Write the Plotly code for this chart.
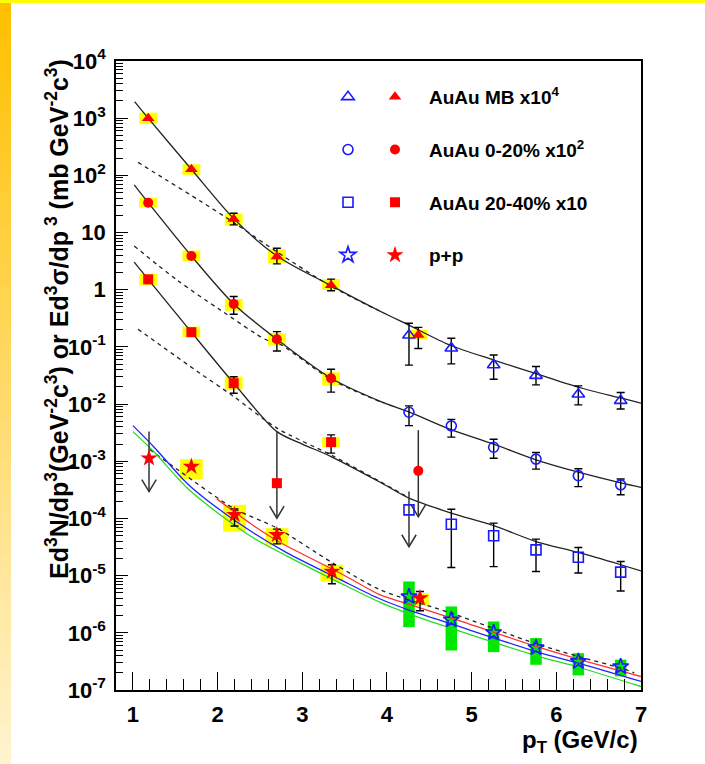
import plotly.graph_objects as go

# ---------------- data ----------------
# AuAu MB x10^4 : filled red triangles
mb_x = [1.18, 1.69, 2.19, 2.70, 3.34, 4.37]
mb_y = [1000, 128, 17.3, 3.8, 1.2, 0.162]
mb_err_hi = [None, None, 21.7, 5.3, 1.53, 0.22]
mb_err_lo = [None, None, 13.6, 2.83, 0.96, 0.094]
mb_sys_hi = [1250, 156, 21.5, 5.1, 1.53, 0.20]
mb_sys_lo = [790, 102, 13.2, 2.9, 0.99, 0.133]

# high-pT points (open blue markers), shared pT bins
hi_x = [4.26, 4.76, 5.26, 5.76, 6.26, 6.76]
mbo_y = [0.16, 0.095, 0.0484, 0.0315, 0.0149, 0.0115]
mbo_err_hi = [0.26, 0.142, 0.0724, 0.0453, 0.0208, 0.0159]
mbo_err_lo = [0.048, 0.0505, 0.0272, 0.0217, 0.0097, 0.0082]

# AuAu 0-20% x10^2 : filled red circles (last one is an upper limit)
c_x = [1.18, 1.69, 2.19, 2.70, 3.34, 4.37]
c_y = [33.3, 3.9, 0.565, 0.136, 0.0283, 6.8e-4]
c_err_hi = [None, None, 0.76, 0.185, 0.0407, None]
c_err_lo = [None, None, 0.373, 0.085, 0.0162, None]
c_sys_hi = [40.7, 4.83, 0.69, 0.174, 0.036, None]
c_sys_lo = [27.3, 3.18, 0.43, 0.105, 0.021, None]
co_y = [7.2e-3, 4.16e-3, 1.76e-3, 1.09e-3, 5.6e-4, 3.87e-4]
co_err_hi = [9.3e-3, 5.4e-3, 2.43e-3, 1.42e-3, 7.4e-4, 4.9e-4]
co_err_lo = [4.2e-3, 2.64e-3, 1.13e-3, 7.3e-4, 3.6e-4, 2.6e-4]

# AuAu 20-40% x10 : filled red squares (2.7 GeV point is an upper limit)
s_x = [1.18, 1.69, 2.19, 2.70, 3.34]
s_y = [1.52, 0.181, 0.0232, 4.14e-4, 2.16e-3]
s_err_hi = [None, None, 0.030, None, 2.9e-3]
s_err_lo = [None, None, 0.0155, None, 1.39e-3]
s_sys_hi = [1.89, 0.226, 0.0303, None, 2.64e-3]
s_sys_lo = [1.2, 0.148, 0.0177, None, 1.77e-3]
so_y = [1.41e-4, 7.9e-5, 4.97e-5, 2.82e-5, 2.1e-5, 1.15e-5]
so_err_hi = [None, 1.45e-4, 8.3e-5, 4.35e-5, 3.1e-5, 1.77e-5]
so_err_lo = [None, 1.39e-5, 1.44e-5, 1.18e-5, 1.11e-5, 5.4e-6]

# p+p : filled red stars (first point is an upper limit)
pp_x = [1.19, 1.69, 2.20, 2.70, 3.35, 4.39]
pp_y = [1.13e-3, 8.07e-4, 1.16e-4, 5.16e-5, 1.18e-5, 4.05e-6]
pp_err_hi = [None, None, 1.47e-4, 6.5e-5, 1.55e-5, 5.27e-6]
pp_err_lo = [None, None, 7.4e-5, 3.6e-5, 7.2e-6, 2.43e-6]
pp_sys_hi = [None, 1.09e-3, 1.73e-4, 6.76e-5, 1.55e-5, 4.94e-6]
pp_sys_lo = [None, 4.86e-4, 5.9e-5, 3.45e-5, 7.9e-6, 2.97e-6]
ppo_y = [4.3e-6, 1.69e-6, 1.01e-6, 5.5e-7, 3.15e-7, 2.57e-7]
ppo_sys_hi = [7.9e-6, 2.89e-6, 1.58e-6, 8.1e-7, 4.4e-7, 3.4e-7]
ppo_sys_lo = [1.26e-6, 4.9e-7, 4.6e-7, 2.76e-7, 1.8e-7, 1.73e-7]

# upper-limit arrows
arrow_x = [1.19, 2.70, 4.37, 4.26]
arrow_top = [3.3e-3, 3.3e-3, 3.5e-3, 2.95e-4]
arrow_bottom = [2.95e-4, 1.01e-4, 1.07e-4, 3.2e-5]

# fit curves (solid)
fit_mb_x = [1.02, 1.18, 1.69, 2.19, 2.70, 3.34, 3.92, 4.26, 4.74, 5.26, 5.76, 6.26, 6.76, 7.0]
fit_mb_y = [1950, 1000, 128, 17.5, 3.9, 1.18, 0.42, 0.24, 0.108, 0.059, 0.034, 0.0197, 0.0128, 0.0104]
fit_c_x = [1.015, 1.18, 1.69, 2.19, 2.70, 3.34, 3.92, 4.26, 4.74, 5.26, 5.76, 6.26, 6.76, 7.0]
fit_c_y = [68, 33.3, 3.9, 0.565, 0.136, 0.0283, 0.0112, 7.3e-3, 3.64e-3, 1.99e-3, 1.06e-3, 6.44e-4, 4.2e-4, 3.5e-4]
fit_s_x = [1.015, 1.18, 1.69, 2.19, 2.70, 3.0, 3.34, 3.92, 4.26, 4.76, 5.26, 5.76, 6.26, 6.76, 7.0]
fit_s_y = [3.03, 1.52, 0.181, 0.0232, 3.3e-3, 2.0e-3, 1.21e-3, 4.3e-4, 2.26e-4, 1.24e-4, 7.5e-5, 3.95e-5, 2.54e-5, 1.55e-5, 1.21e-5]

# scaled p+p references (dashed)
ref_mb_x = [1.06, 1.40, 1.79, 2.19, 2.70, 3.34, 3.92]
ref_mb_y = [169, 82, 36, 15, 4.6, 1.15, 0.42]
ref_c_x = [1.015, 1.52, 2.03, 2.58, 2.70, 3.34, 3.92]
ref_c_y = [5.8, 1.48, 0.444, 0.132, 0.12, 0.027, 0.011]
ref_s_x = [1.06, 1.79, 2.19, 2.70, 3.34, 3.92, 4.26]
ref_s_y = [0.204, 0.0347, 0.0136, 3.8e-3, 1.29e-3, 4.4e-4, 2.3e-4]
ref_pp_x = [1.20, 1.56, 2.19, 2.70, 3.35, 3.92, 4.76, 5.76, 6.26, 6.76, 6.92]
ref_pp_y = [1.6e-3, 6.6e-4, 1.5e-4, 6.8e-5, 1.7e-5, 5.65e-6, 2.21e-6, 6.45e-7, 3.86e-7, 2.42e-7, 2.0e-7]

# p+p theory curves
th_red_x = [1.99, 2.43, 2.74, 3.45, 3.92, 4.16, 4.87, 5.76, 6.26, 7.0]
th_red_y = [2.2e-4, 7.4e-5, 3.8e-5, 1.1e-5, 4.6e-6, 3.5e-6, 1.6e-6, 5.8e-7, 3.47e-7, 1.72e-7]
th_blue_x = [1.0, 1.245, 1.64, 2.03, 2.43, 2.82, 3.45, 3.92, 4.26, 4.76, 5.76, 6.26, 7.0]
th_blue_y = [4.2e-3, 1.8e-3, 4.1e-4, 1.4e-4, 5.5e-5, 2.5e-5, 8.5e-6, 3.9e-6, 2.5e-6, 1.43e-6, 4.7e-7, 2.95e-7, 1.41e-7]
th_green_x = [1.0, 1.245, 1.64, 2.03, 2.43, 2.82, 3.45, 3.92, 4.26, 4.76, 5.76, 6.26, 7.0]
th_green_y = [3.3e-3, 1.48e-3, 3.4e-4, 1.16e-4, 4.5e-5, 2.2e-5, 7.4e-6, 3.4e-6, 2.15e-6, 1.2e-6, 4.0e-7, 2.5e-7, 1.15e-7]

# axis ticks
x_tickvals = [1, 2, 3, 4, 5, 6, 7]
x_ticktext = ["1", "2", "3", "4", "5", "6", "7"]
y_tickvals = [1e-7, 1e-6, 1e-5, 1e-4, 1e-3, 1e-2, 1e-1, 1, 10, 1e2, 1e3, 1e4]
y_ticktext = ["10<sup>-7</sup>", "10<sup>-6</sup>", "10<sup>-5</sup>", "10<sup>-4</sup>",
              "10<sup>-3</sup>", "10<sup>-2</sup>", "10<sup>-1</sup>", "1", "10",
              "10<sup>2</sup>", "10<sup>3</sup>", "10<sup>4</sup>"]

legend_names = ["AuAu MB x10<sup>4</sup>", "AuAu 0-20% x10<sup>2</sup>", "AuAu 20-40% x10", "p+p"]

# ---------------- styling ----------------
FONT = "Liberation Sans, Arial, Helvetica, sans-serif"
RED = "#ff0000"
BLUE = "#1a1aff"
YELLOW = "#ffff00"
GREEN = "#00e800"
HALF_AU = 0.105
HALF_PP = 0.135
HALF_GREEN = 0.068

fig = go.Figure()
shapes = []


def sys_boxes(xs, lo, hi, half_fn, color):
    for x, l, h in zip(xs, lo, hi):
        if l is None or h is None:
            continue
        hw = half_fn(x)
        shapes.append(dict(type="rect", xref="x", yref="y", x0=x - hw, x1=x + hw,
                           y0=l, y1=h, fillcolor=color, line=dict(width=0), layer="below"))


sys_boxes(mb_x, mb_sys_lo, mb_sys_hi, lambda x: HALF_AU, YELLOW)
sys_boxes(c_x, c_sys_lo, c_sys_hi, lambda x: HALF_AU, YELLOW)
sys_boxes(s_x, s_sys_lo, s_sys_hi, lambda x: HALF_AU, YELLOW)
sys_boxes(pp_x, pp_sys_lo, pp_sys_hi, lambda x: HALF_PP if x < 4 else HALF_AU, YELLOW)
sys_boxes(hi_x, ppo_sys_lo, ppo_sys_hi, lambda x: HALF_GREEN, GREEN)


def curve(xs, ys, color, dash="solid", width=1.3):
    fig.add_trace(go.Scatter(x=xs, y=ys, mode="lines", showlegend=False, hoverinfo="skip",
                             line=dict(color=color, width=width, dash=dash, shape="spline",
                                       smoothing=0.8)))


for xs, ys in [(fit_mb_x, fit_mb_y), (fit_c_x, fit_c_y), (fit_s_x, fit_s_y)]:
    curve(xs, ys, "#222222")
for xs, ys in [(ref_mb_x, ref_mb_y), (ref_c_x, ref_c_y), (ref_s_x, ref_s_y), (ref_pp_x, ref_pp_y)]:
    curve(xs, ys, "#222222", dash="4px,4px")
curve(th_green_x, th_green_y, "#22dd22")
curve(th_blue_x, th_blue_y, "#2222ff")
curve(th_red_x, th_red_y, "#ff3030")

# upper limit arrows
ARROW_HW = 0.085
ARROW_HEAD = 10 ** 0.21
ax_, ay_ = [], []
for x, t, b in zip(arrow_x, arrow_top, arrow_bottom):
    ax_ += [x, x, None, x - ARROW_HW, x, x + ARROW_HW, None]
    ay_ += [t, b, None, b * ARROW_HEAD, b, b * ARROW_HEAD, None]
fig.add_trace(go.Scatter(x=ax_, y=ay_, mode="lines", showlegend=False, hoverinfo="skip",
                         line=dict(color="#333333", width=1.5)))


def errbars(xs, ys, his, los):
    ex, ey, eh, el = [], [], [], []
    for x, y, h, l in zip(xs, ys, his, los):
        if h is None:
            continue
        ex.append(x); ey.append(y); eh.append(h - y); el.append(y - l)
    fig.add_trace(go.Scatter(x=ex, y=ey, mode="markers", showlegend=False, hoverinfo="skip",
                             marker=dict(size=1, opacity=0),
                             error_y=dict(type="data", symmetric=False, array=eh, arrayminus=el,
                                          color="#000000", thickness=1.4, width=4)))


errbars(mb_x, mb_y, mb_err_hi, mb_err_lo)
errbars(hi_x, mbo_y, mbo_err_hi, mbo_err_lo)
errbars(c_x, c_y, c_err_hi, c_err_lo)
errbars(hi_x, co_y, co_err_hi, co_err_lo)
errbars(s_x, s_y, s_err_hi, s_err_lo)
errbars(hi_x, so_y, so_err_hi, so_err_lo)
errbars(pp_x, pp_y, pp_err_hi, pp_err_lo)

# open (blue) markers -> legend2 (no text)
open_series = [(mbo_y, "triangle-up-open", 11), (co_y, "circle-open", 10),
               (so_y, "square-open", 10), (ppo_y, "star-open", 12)]
for i, (ys, sym, sz) in enumerate(open_series):
    fig.add_trace(go.Scatter(x=hi_x, y=ys, mode="markers", name="\u00a0", legend="legend2",
                             legendgroup="b%d" % i,
                             marker=dict(symbol=sym, size=sz, color=BLUE, line=dict(color=BLUE, width=1.6))))

# filled (red) markers -> legend
filled_series = [(mb_x, mb_y, "triangle-up", 11), (c_x, c_y, "circle", 10),
                 (s_x, s_y, "square", 10), (pp_x, pp_y, "star", 13)]
for i, (xs, ys, sym, sz) in enumerate(filled_series):
    fig.add_trace(go.Scatter(x=xs, y=ys, mode="markers", name=legend_names[i], legend="legend",
                             legendgroup="r%d" % i,
                             marker=dict(symbol=sym, size=sz, color=RED, line=dict(width=0))))

# ---------------- frame decoration (yellow/orange page border) ----------------
W, H = 705, 764
L, R, T, B = 116, 64, 61, 74
PW, PH = W - L - R, H - T - B


def px2paper_x(px):
    return (px - L) / PW


def px2paper_y(py):
    return (H - B - py) / PH


NB = 40
top_c = (255, 192, 0)
bot_c = (255, 243, 205)
for k in range(NB):
    f = k / (NB - 1)
    col = "rgb(%d,%d,%d)" % tuple(round(a + (b - a) * f) for a, b in zip(top_c, bot_c))
    shapes.append(dict(type="rect", xref="paper", yref="paper", layer="below",
                       x0=px2paper_x(0), x1=px2paper_x(11),
                       y0=px2paper_y(H * k / NB), y1=px2paper_y(H * (k + 1) / NB + 1),
                       fillcolor=col, line=dict(width=0)))
shapes.append(dict(type="rect", xref="paper", yref="paper", layer="below",
                   x0=px2paper_x(0), x1=px2paper_x(W), y0=px2paper_y(0), y1=px2paper_y(3),
                   fillcolor="#ffff00", line=dict(width=0)))

tickfont = dict(family=FONT, size=22, color="black", weight="bold")

fig.update_layout(
    width=W, height=H, autosize=False,
    margin=dict(l=L, r=R, t=T, b=B, pad=0),
    paper_bgcolor="white", plot_bgcolor="white",
    shapes=shapes,
    showlegend=True,
    legend=dict(x=px2paper_x(361), xanchor="left", y=px2paper_y(78), yanchor="top",
                bgcolor="rgba(0,0,0,0)", borderwidth=0, itemwidth=58, tracegroupgap=25,
                traceorder="grouped",
                font=dict(family=FONT, size=19, color="black", weight="bold")),
    legend2=dict(x=px2paper_x(328), xanchor="left", y=px2paper_y(78), yanchor="top",
                 bgcolor="rgba(0,0,0,0)", borderwidth=0, itemwidth=30, tracegroupgap=25,
                 traceorder="grouped",
                 font=dict(family=FONT, size=19, color="black", weight="bold")),
    xaxis=dict(range=[0.8, 7.0], showline=True, linecolor="black", linewidth=1.5, mirror=True,
               ticks="inside", ticklen=18, tickwidth=1, tickcolor="black",
               tickmode="array", tickvals=x_tickvals, ticktext=x_ticktext,
               ticklabelstandoff=4,
               minor=dict(ticks="inside", ticklen=11, tickwidth=1, tickcolor="black",
                          dtick=0.2, tick0=0, showgrid=False),
               showgrid=False, zeroline=False, tickfont=tickfont),
    yaxis=dict(type="log", range=[-7, 4], showline=True, linecolor="black", linewidth=1.5,
               mirror=True, ticks="inside", ticklen=12, tickwidth=1, tickcolor="black",
               tickmode="array", tickvals=y_tickvals, ticktext=y_ticktext,
               ticklabelstandoff=4,
               minor=dict(ticks="inside", ticklen=7, tickwidth=1, tickcolor="black",
                          dtick="D1", showgrid=False),
               showgrid=False, zeroline=False, tickfont=tickfont),
    annotations=[
        dict(xref="paper", yref="paper", x=px2paper_x(57), y=px2paper_y(319),
             text="Ed<sup>3</sup>N/dp<sup>3</sup>(GeV<sup>-2</sup>c<sup>3</sup>) or "
                  "Ed<sup>3</sup>σ/dp<sup> 3</sup> (mb GeV<sup>-2</sup>c<sup>3</sup>)",
             textangle=-90, showarrow=False, xanchor="center", yanchor="middle",
             font=dict(family=FONT, size=25, color="black", weight="bold")),
        dict(xref="paper", yref="paper", x=px2paper_x(640), y=px2paper_y(741),
             text="p<sub>T</sub> (GeV/c)", showarrow=False, xanchor="right", yanchor="middle",
             font=dict(family=FONT, size=24, color="black", weight="bold")),
    ],
)

fig.write_html("out.html", config={"displayModeBar": False},
               post_script="document.body.style.margin='0';document.body.style.padding='0';"
                           "document.documentElement.style.overflow='hidden';")
